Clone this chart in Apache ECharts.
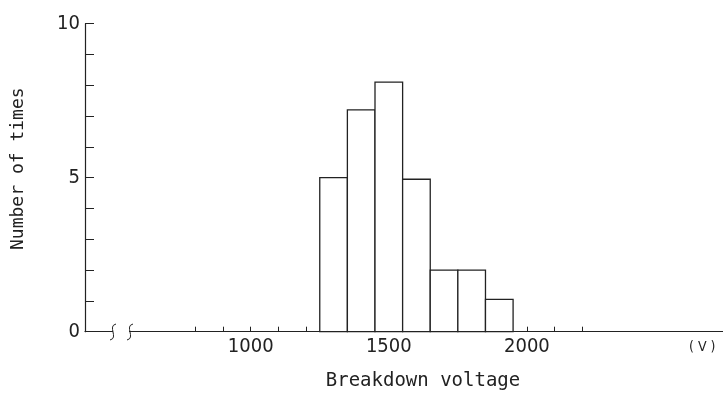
<!DOCTYPE html>
<html>
<head>
<meta charset="utf-8">
<script src="https://cdn.jsdelivr.net/npm/echarts@6/dist/echarts.min.js"></script>
<style>
  html, body { margin: 0; padding: 0; background: #fff; }
  #chart { width: 723px; height: 394px; }
</style>
</head>
<body>
<div id="chart"></div>
<script>
  // histogram bins (V) and counts
  const binStarts = [1250, 1350, 1450, 1550, 1650, 1750, 1850]
  const binWidth = 100
  const counts = [5, 7.2, 8.1, 4.95, 2, 2, 1.05]

  // axis ticks / labels
  const xTicks = [800, 900, 1000, 1100, 1200, 1300, 1400, 1500, 1600, 1700, 1800, 1900, 2000, 2100, 2200]
  const xLabels = [1000, 1500, 2000]
  const unitPos = 2635
  const yLabels = [0, 5, 10]

  const ink = '#222'
  const digitFont = "'Liberation Sans Narrow', 'DejaVu Sans Condensed', 'DejaVu Sans Mono', sans-serif"
  const monoFont = "'DejaVu Sans Mono', 'Liberation Mono', monospace"

  const chart = echarts.init(document.getElementById('chart'))

  // break mark on the x axis
  function squiggle(x) {
    return {
      type: 'bezierCurve',
      z: 100,
      shape: { x1: x + 3, y1: 324, cpx1: x - 6, cpy1: 326, cpx2: x + 6, cpy2: 338, x2: x - 3, y2: 340 },
      style: { stroke: ink, lineWidth: 1, fill: null }
    }
  }

  chart.setOption({
    animation: false,
    grid: {
      left: 85,
      right: 0,
      top: 23.7,
      bottom: 62.3,
      outerBoundsMode: 'none'
    },
    xAxis: {
      type: 'value',
      min: 400,
      max: 2710,
      name: 'Breakdown voltage',
      nameLocation: 'middle',
      nameGap: 40,
      nameTextStyle: { fontFamily: monoFont, fontSize: 19, color: ink, padding: [0, 0, 0, 38] },
      splitLine: { show: false },
      axisLine: { lineStyle: { color: ink, width: 1.2 } },
      axisTick: { inside: true, length: 5, lineStyle: { color: ink, width: 1 }, customValues: xTicks },
      axisLabel: {
        customValues: xLabels.concat([unitPos]),
        margin: 5,
        fontFamily: digitFont,
        fontSize: 20,
        color: ink,
        formatter: v => (v === unitPos ? '{u|( V )}' : String(v)),
        rich: { u: { fontFamily: digitFont, fontSize: 14, color: ink, padding: [4, 0, 0, 0] } }
      }
    },
    yAxis: {
      type: 'value',
      min: 0,
      max: 10,
      interval: 1,
      name: 'Number of times',
      nameLocation: 'middle',
      nameGap: 58,
      nameRotate: 90,
      nameTextStyle: { fontFamily: monoFont, fontSize: 18, color: ink, padding: [0, 0, 0, 18] },
      splitLine: { show: false },
      axisLine: { show: true, lineStyle: { color: ink, width: 1.2 } },
      axisTick: { show: true, inside: true, length: 9, lineStyle: { color: ink, width: 1 } },
      axisLabel: {
        customValues: yLabels,
        margin: 5,
        fontFamily: digitFont,
        fontSize: 20,
        color: ink
      }
    },
    graphic: [
      { type: 'rect', z: 99, shape: { x: 113, y: 328, width: 16, height: 7 }, style: { fill: '#fff' } },
      squiggle(113),
      squiggle(130)
    ],
    series: [
      {
        type: 'custom',
        data: binStarts.map((s, i) => [s, s + binWidth, counts[i]]),
        encode: { x: [0, 1], y: 2 },
        renderItem(params, api) {
          const p0 = api.coord([api.value(0), 0])
          const p1 = api.coord([api.value(1), api.value(2)])
          return {
            type: 'rect',
            shape: { x: p0[0], y: p1[1], width: p1[0] - p0[0], height: p0[1] - p1[1] },
            style: { fill: '#fff', stroke: ink, lineWidth: 1.3 }
          }
        }
      }
    ]
  })
</script>
</body>
</html>
